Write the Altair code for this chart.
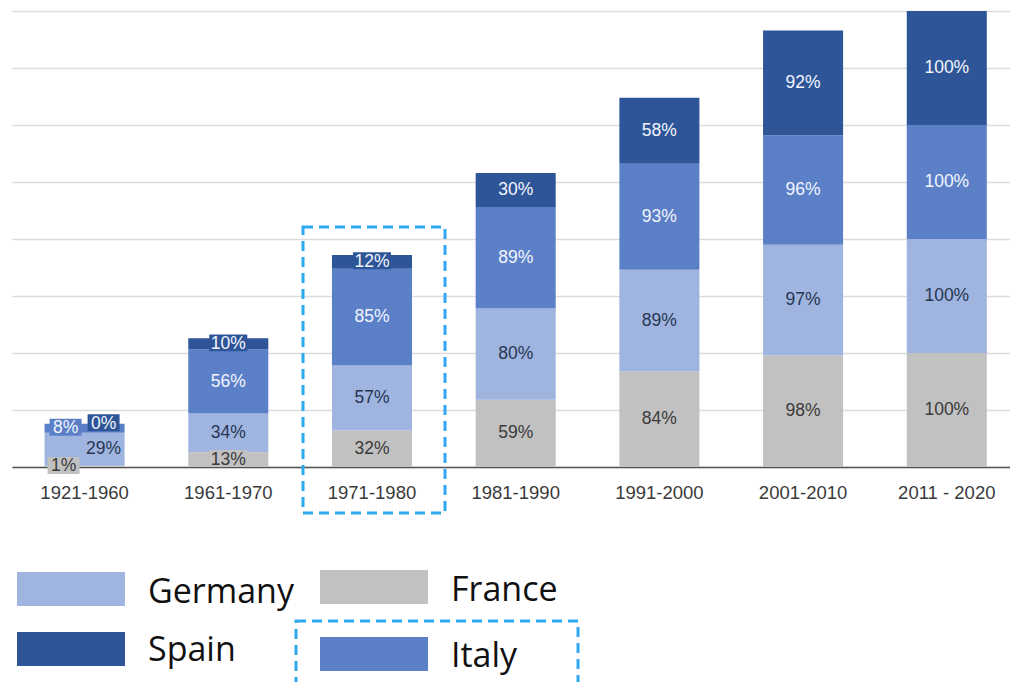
import altair as alt
import pandas as pd

# Share of each decade's total, stacked by country
periods = ["1921-1960", "1961-1970", "1971-1980", "1981-1990",
           "1991-2000", "2001-2010", "2011 - 2020"]
countries = ["France", "Germany", "Italy", "Spain"]
france = [1, 13, 32, 59, 84, 98, 100]
germany = [29, 34, 57, 80, 89, 97, 100]
italy = [8, 56, 85, 89, 93, 96, 100]
spain = [0, 10, 12, 30, 58, 92, 100]

bar_colors = ["#c1c1c1", "#9fb5e0", "#5b80c8", "#2e5597"]
text_colors = ["#3a3a3a", "#283552", "#f2f5fc", "#f2f5fc"]
highlight = "#2ea8f0"

series = [france, germany, italy, spain]
rows = []
for i, p in enumerate(periods):
    base = 0
    for j, c in enumerate(countries):
        v = series[j][i]
        rows.append(dict(period=p, country=c, value=v, y0=base, y1=base + v,
                         mid=base + v / 2, label=f"{v}%", tcolor=text_colors[j]))
        base += v
df = pd.DataFrame(rows)
df["boxed"] = df["value"] < 14

# labels of the thin first column are pushed sideways so they stay readable
nudges = {("1921-1960", "France"): -21, ("1921-1960", "Germany"): 19,
          ("1921-1960", "Italy"): -19, ("1921-1960", "Spain"): 19}
df["nudge"] = [nudges.get((p, c), 0) for p, c in zip(df.period, df.country)]

W, H = 998, 456
PAD_L, PAD_T = 12, 11

xscale = alt.Scale(domain=periods, paddingInner=0.443, paddingOuter=0.194,
                   align=0.584, round=False)
yscale = alt.Scale(domain=[0, 400], nice=False, zero=True)
cscale = alt.Scale(domain=countries, range=bar_colors)

X = alt.X("period:N", sort=periods, scale=xscale, title=None)

bars = alt.Chart(df).mark_bar().encode(
    x=alt.X("period:N", sort=periods, scale=xscale, title=None,
            axis=alt.Axis(labelFont="Liberation Sans", labelFontSize=18.5,
                          labelColor="#3a3a3a", labelPadding=16, labelAngle=0,
                          ticks=False, tickSize=0, domainColor="#555555",
                          domainWidth=1.5, grid=False)),
    y=alt.Y("y1:Q", scale=yscale, title=None,
            axis=alt.Axis(values=list(range(0, 401, 50)), labels=False,
                          ticks=False, domain=False, gridColor="#dcdcdc",
                          gridWidth=1.5)),
    y2="y0",
    color=alt.Color("country:N", scale=cscale, legend=None),
)

layers = [bars]


def label_layers(sub, dx):
    out = []
    for n_chars, half in ((2, 16), (3, 19)):
        b = sub[sub.boxed & (sub.label.str.len() == n_chars)]
        if len(b):
            h = 8.5 / half
            shape = f"M-1,-{h:.3f}H1V{h:.3f}H-1Z"
            out.append(alt.Chart(b).mark_point(
                shape=shape, size=(2 * half) ** 2, filled=True, opacity=1,
                strokeWidth=0, xOffset=dx, yOffset=-1).encode(
                x=X, y=alt.Y("mid:Q", scale=yscale, title=None),
                color=alt.Color("country:N", scale=cscale, legend=None)))
    out.append(alt.Chart(sub).mark_text(
        font="Liberation Sans", fontSize=17.5, baseline="middle", align="center",
        xOffset=dx, dy=0).encode(
        x=X, y=alt.Y("mid:Q", scale=yscale, title=None),
        text="label:N", fill=alt.Fill("tcolor:N", scale=None)))
    return out


for dx in sorted(df.nudge.unique()):
    layers += label_layers(df[df.nudge == dx], int(dx))

one = pd.DataFrame({"k": [0]})


def dashed_box(x0, y0, x1, y1):
    return alt.Chart(one).mark_rect(
        fillOpacity=0, stroke=highlight, strokeWidth=3, strokeDash=[10, 6]
    ).encode(x=alt.value(x0 - PAD_L), x2=alt.value(x1 - PAD_L),
             y=alt.value(y0 - PAD_T), y2=alt.value(y1 - PAD_T))


layers.append(dashed_box(303, 227, 445, 513))

# legend, laid out in two columns
legend_order = ["Germany", "France", "Spain", "Italy"]
legend_spots = {"Germany": (17, 572, 603), "France": (320, 570, 601),
                "Spain": (17, 632, 661), "Italy": (320, 637, 667)}
for name in legend_order:
    lx, ly, base = legend_spots[name]
    col = bar_colors[countries.index(name)]
    layers.append(alt.Chart(one).mark_rect(color=col).encode(
        x=alt.value(lx - PAD_L), x2=alt.value(lx + 108 - PAD_L),
        y=alt.value(ly - PAD_T), y2=alt.value(ly + 34 - PAD_T)))
    layers.append(alt.Chart(one).mark_text(
        text=name, font="Open Sans", fontSize=34, align="left",
        baseline="alphabetic", color="#111111").encode(
        x=alt.value(lx + 131 - PAD_L), y=alt.value(base - PAD_T)))

layers.append(dashed_box(296, 621, 578, 700))

chart = alt.layer(*layers).properties(
    width=W, height=H,
    padding={"left": PAD_L, "top": PAD_T, "right": 0, "bottom": 682 - H - PAD_T},
    autosize=alt.AutoSizeParams(type="none"),
    background="white",
).configure_view(strokeWidth=0)

chart.save("out.html", embed_options={"renderer": "svg", "actions": False})
